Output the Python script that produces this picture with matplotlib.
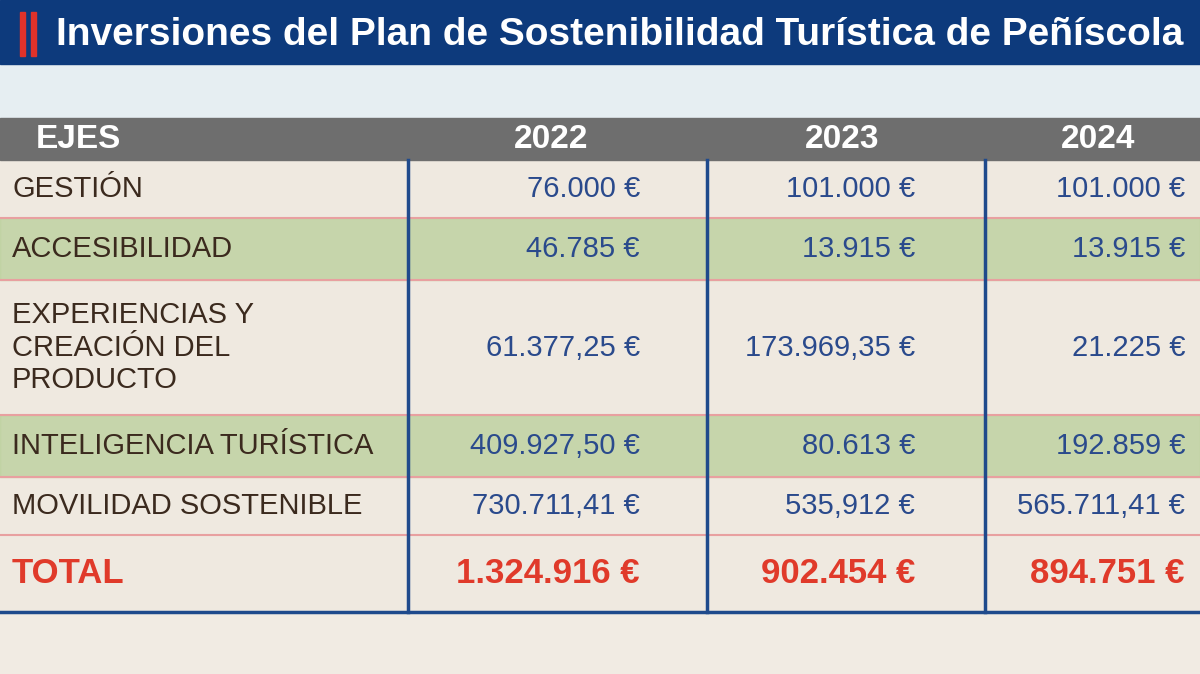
import matplotlib.pyplot as plt
from matplotlib.patches import Rectangle

title = "Inversiones del Plan de Sostenibilidad Turística de Peñíscola"
years = ["2022", "2023", "2024"]
ejes = ["GESTIÓN", "ACCESIBILIDAD", "EXPERIENCIAS Y\nCREACIÓN DEL\nPRODUCTO",
        "INTELIGENCIA TURÍSTICA", "MOVILIDAD SOSTENIBLE"]
v2022 = ["76.000 €", "46.785 €", "61.377,25 €", "409.927,50 €", "730.711,41 €"]
v2023 = ["101.000 €", "13.915 €", "173.969,35 €", "80.613 €", "535,912 €"]
v2024 = ["101.000 €", "13.915 €", "21.225 €", "192.859 €", "565.711,41 €"]
totals = ["1.324.916 €", "902.454 €", "894.751 €"]

W, H = 1200, 674
fig = plt.figure(figsize=(12, 6.74), dpi=100)
ax = fig.add_axes([0, 0, 1, 1])
ax.set_xlim(0, W)
ax.set_ylim(H, 0)
ax.axis("off")
font = "Liberation Sans"

# background
ax.add_patch(Rectangle((0, 0), W, H, color="#efe9e0"))
ax.add_patch(Rectangle((0, 62), W, 56, color="#e6eef2"))
ax.add_patch(Rectangle((0, 612), W, 62, color="#f1ebe3"))

# title bar
ax.add_patch(Rectangle((0, 0), W, 64, color="#0d3a7c"))
ax.add_patch(Rectangle((20, 12), 5, 44, color="#e0322a"))
ax.add_patch(Rectangle((31, 12), 5, 44, color="#e0322a"))
ax.text(56, 35, title, color="white", fontsize=28, fontweight="bold",
        family=font, va="center", ha="left")

# header
ax.add_patch(Rectangle((0, 118), W, 42, color="#6e6e6e"))
ax.text(36, 140, "EJES", color="white", fontsize=24, fontweight="bold",
        family=font, va="center")
ycent = [551, 842, 1098]
for x, y in zip(ycent, years):
    ax.text(x, 140, y, color="white", fontsize=24, fontweight="bold",
            family=font, va="center", ha="center")

# rows
bounds = [160, 218, 280, 415, 477, 535, 612]
greens = [1, 3]
valx = [640, 915, 1185]
for i, lab in enumerate(ejes):
    y0, y1 = bounds[i], bounds[i + 1]
    if i in greens:
        ax.add_patch(Rectangle((0, y0), W, y1 - y0, color="#b9cf9a", alpha=0.75))
    yc = (y0 + y1) / 2
    ax.text(12, yc, lab, color="#3b2a1e", fontsize=21, family=font,
            va="center", ha="left", linespacing=1.2)
    for x, col in zip(valx, [v2022, v2023, v2024]):
        ax.text(x, yc, col[i], color="#2a4a8c", fontsize=21, family=font,
                va="center", ha="right")
for b in bounds[1:-1]:
    ax.plot([0, W], [b, b], color="#e8a0a0", lw=1.5)

yc = (bounds[-2] + bounds[-1]) / 2
ax.text(12, yc, "TOTAL", color="#e03a2a", fontsize=25, fontweight="bold",
        family=font, va="center")
for x, t in zip(valx, totals):
    ax.text(x, yc, t, color="#e03a2a", fontsize=25, fontweight="bold",
            family=font, va="center", ha="right")

for x in [408, 707, 985]:
    ax.plot([x, x], [160, 612], color="#1f4a8c", lw=2.5)
ax.plot([0, W], [612, 612], color="#1f4a8c", lw=2.5)

fig.savefig("out.png", dpi=100)
